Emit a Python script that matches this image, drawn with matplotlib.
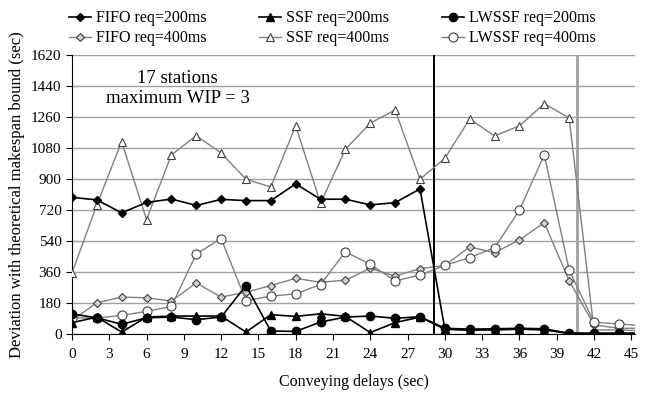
import matplotlib
matplotlib.use("Agg")
import matplotlib.pyplot as plt

plt.rcParams['font.family'] = ['Liberation Serif', 'DejaVu Serif']

# conveying delays (sec); last point lies just past the visible range
delays = [0, 2, 4, 6, 8, 10, 12, 14, 16, 18, 20, 22, 24, 26, 28, 30,
          32, 34, 36, 38, 40, 42, 44, 46]

fifo_200 = [795, 780, 705, 765, 785, 748, 783, 776, 776, 873, 784, 784,
            751, 764, 844, 30, 25, 27, 30, 27, 5, 5, 5, 5]
ssf_200 = [67, 100, 13, 100, 106, 106, 106, 13, 114, 104, 119, 104,
           10, 68, 100, 30, 25, 27, 30, 27, 5, 5, 5, 5]
lwssf_200 = [118, 96, 58, 96, 100, 85, 100, 283, 19, 17, 71, 100,
             106, 93, 102, 35, 30, 32, 35, 32, 5, 5, 5, 5]

fifo_400 = [81, 183, 216, 212, 193, 298, 216, 244, 283, 325, 302, 314,
            383, 338, 381, 400, 507, 474, 548, 648, 311, 55, 35, 35]
ssf_400 = [355, 751, 1118, 666, 1041, 1152, 1053, 900, 855, 1210, 761, 1074,
           1225, 1302, 900, 1021, 1250, 1151, 1210, 1338, 1256, 25, 25, 20]
lwssf_400 = [96, 94, 110, 133, 162, 466, 556, 196, 221, 235, 289, 479,
             406, 310, 344, 400, 445, 503, 720, 1042, 373, 70, 60, 50]

x_ticks = list(range(0, 46, 3))
y_ticks = list(range(0, 1621, 180))

fig = plt.figure(figsize=(6.54, 3.94), dpi=100)
ax = fig.add_axes([0.110, 0.1515, 0.861, 0.7085])

gray = '#808080'
ax.plot(delays, fifo_400, color=gray, lw=1, marker='D', ms=4.5,
        mfc='#d0d0d0', mec='#404040', mew=0.8, label='FIFO req=400ms', zorder=3)
ax.plot(delays, ssf_400, color=gray, lw=1, marker='^', ms=6,
        mfc='white', mec='#404040', mew=0.8, label='SSF req=400ms', zorder=3)
ax.plot(delays, lwssf_400, color=gray, lw=1, marker='o', ms=6.5,
        mfc='white', mec='#404040', mew=0.8, label='LWSSF req=400ms', zorder=3)
ax.plot(delays, fifo_200, color='black', lw=1.2, marker='D', ms=4,
        label='FIFO req=200ms', zorder=4)
ax.plot(delays, ssf_200, color='black', lw=1.2, marker='^', ms=5.5,
        label='SSF req=200ms', zorder=4)
ax.plot(delays, lwssf_200, color='black', lw=1.2, marker='o', ms=6,
        label='LWSSF req=200ms', zorder=4)

ax.axvline(29.15, color='black', lw=1.4, zorder=2)
ax.axvline(40.6, color='#a0a0a0', lw=2, zorder=2)

ax.set_xlim(0, 45.3)
ax.set_ylim(0, 1620)
ax.set_xticks(x_ticks)
ax.set_yticks(y_ticks)
ax.tick_params(labelsize=11, length=4, width=0.8, color='black')
ax.tick_params(axis='x', pad=6)
ax.yaxis.grid(True, color='#a0a0a0', lw=1)
ax.set_axisbelow(True)
for side in ['top', 'right']:
    ax.spines[side].set_visible(False)

ax.set_xlabel('Conveying delays (sec)', fontsize=11.5, labelpad=9)
ax.set_ylabel('Deviation with theoretical makespan bound (sec)', fontsize=12, labelpad=4)

ax.text(8.5, 1425, '17 stations\nmaximum WIP = 3', ha='center', va='center',
        fontsize=13.5, linespacing=1.2)

handles, labels = ax.get_legend_handles_labels()
order = [3, 0, 4, 1, 5, 2]
fig.legend([handles[i] for i in order], [labels[i] for i in order],
           loc='upper left', bbox_to_anchor=(0.095, 0.99), ncol=3, frameon=False,
           fontsize=11.5, handlelength=1.4, handletextpad=0.3,
           columnspacing=3.3, labelspacing=0.25, borderaxespad=0)

fig.savefig('out.png', dpi=100)
